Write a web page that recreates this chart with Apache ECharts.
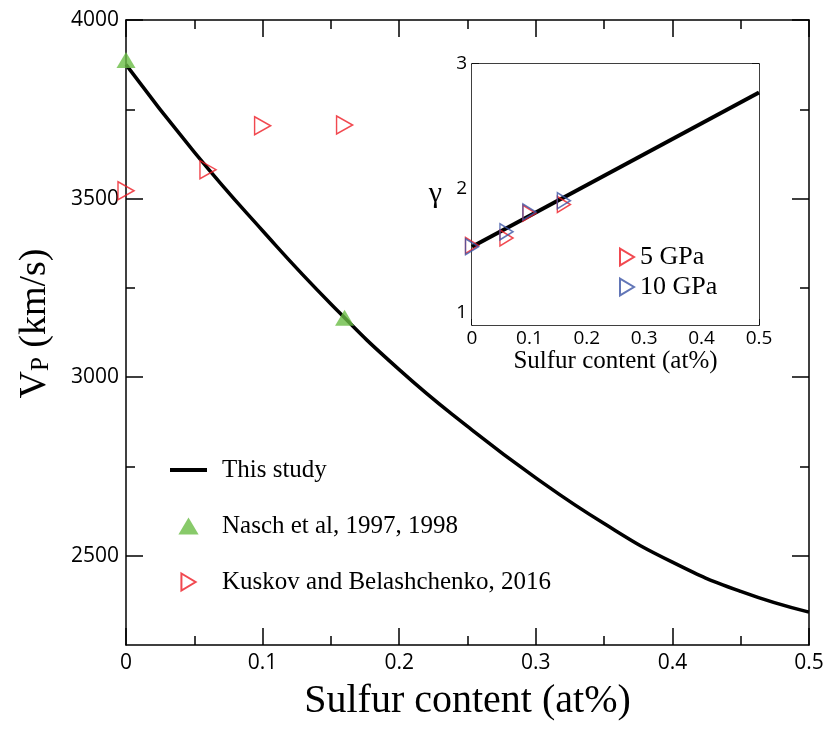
<!DOCTYPE html>
<html>
<head>
<meta charset="utf-8">
<script src="https://cdn.jsdelivr.net/npm/echarts@6/dist/echarts.min.js"></script>
<style>
  html, body { margin: 0; padding: 0; background: #fff; }
  #chart { width: 829px; height: 730px; }
</style>
</head>
<body>
<div id="chart"></div>
<script>
// main panel: P-wave velocity vs sulfur content
const sulfur = [0, 0.05, 0.1, 0.15, 0.2, 0.25, 0.3, 0.35, 0.4, 0.45, 0.5];
const vpStudy = [3875, 3630, 3410, 3205, 3021, 2862, 2718, 2590, 2482, 2400, 2342];
const naschS = [0, 0.16];
const naschVp = [3888, 3166];
const kuskovS = [0, 0.06, 0.1, 0.16];
const kuskovVp = [3522, 3581, 3704, 3706];
const vpMajorTicks = [2500, 3000, 3500, 4000];
const vpMinorTicks = [2750, 3250, 3750];

// inset: gamma vs sulfur content
const insetS = [0, 0.5];
const gammaStudy = [1.53, 2.77];
const gpaS = [0, 0.06, 0.1, 0.16];
const gamma5 = [1.54, 1.60, 1.80, 1.87];
const gamma10 = [1.53, 1.65, 1.81, 1.90];
const gammaMajorTicks = [1, 2, 3];
const gammaMinorTicks = [1.25, 1.5, 1.75, 2.25, 2.5, 2.75];

const pairs = (xs, ys) => xs.map((x, i) => [x, ys[i]]);

const RIGHT_TRI = 'path://M0,0L10,6L0,12Z';
const UP_TRI = 'path://M9.5,0L19,16L0,16Z';
const LINE_ICON = 'path://M0,0H37V4H0Z';
const SANS = 'Open Sans';
const SERIF = 'Liberation Serif';
const axisLine = { show: true, lineStyle: { color: '#000', width: 1.5 } };
const noSplit = { show: false };
const plain = v => String(v);

// helper for y axes, one axis per tick length
const yAx = (grid, pos, min, max, ticks, len, extra) => Object.assign({
  type: 'value',
  gridIndex: grid,
  position: pos,
  min: min,
  max: max,
  axisLine: axisLine,
  splitLine: noSplit,
  axisTick: { show: true, inside: true, length: len, customValues: ticks, lineStyle: { color: '#000', width: 1.5 } },
  axisLabel: { show: false }
}, extra || {});

const chart = echarts.init(document.getElementById('chart'));

const option = {
  backgroundColor: '#fff',
  animation: false,
  grid: [
    { left: 126, top: 20, right: 20, bottom: 85 },
    { left: 472, top: 64, right: 70, bottom: 405, show: true, backgroundColor: '#fff', borderWidth: 0, z: 1 }
  ],
  legend: [
    {
      data: [
        { name: 'This study', icon: LINE_ICON },
        { name: 'Nasch et al, 1997, 1998', icon: UP_TRI },
        { name: 'Kuskov and Belashchenko, 2016', icon: RIGHT_TRI }
      ],
      orient: 'vertical',
      left: 170,
      top: 457,
      padding: 0,
      itemWidth: 37,
      itemHeight: 17,
      itemGap: 30,
      z: 10,
      textStyle: { fontFamily: SERIF, fontSize: 25, lineHeight: 26, color: '#000', padding: [0, 0, 0, 10] }
    },
    {
      data: [
        { name: '5 GPa', icon: RIGHT_TRI },
        { name: '10 GPa', icon: RIGHT_TRI }
      ],
      orient: 'vertical',
      left: 619,
      top: 244,
      padding: 0,
      itemWidth: 14,
      itemHeight: 17,
      itemGap: 4,
      z: 10,
      textStyle: { fontFamily: SERIF, fontSize: 26, lineHeight: 26, color: '#000', padding: [0, 0, 0, 1] }
    }
  ],
  xAxis: [
    {
      type: 'value', gridIndex: 0, position: 'bottom', min: 0, max: 0.5, interval: 0.1,
      axisLine: axisLine, splitLine: noSplit,
      axisTick: { inside: true, length: 17, lineStyle: { color: '#000', width: 1.5 } },
      minorTick: { show: true, splitNumber: 2, length: 9, lineStyle: { color: '#000', width: 1.5 } },
      axisLabel: { fontFamily: SANS, fontSize: 21, color: '#000', margin: 8, formatter: plain },
      name: 'Sulfur content (at%)', nameLocation: 'middle', nameGap: 36,
      nameTextStyle: { fontFamily: SERIF, fontSize: 40, color: '#000' }
    },
    {
      type: 'value', gridIndex: 0, position: 'top', min: 0, max: 0.5, interval: 0.1,
      axisLine: axisLine, splitLine: noSplit,
      axisTick: { inside: true, length: 17, lineStyle: { color: '#000', width: 1.5 } },
      minorTick: { show: true, splitNumber: 2, length: 9, lineStyle: { color: '#000', width: 1.5 } },
      axisLabel: { show: false }
    },
    {
      type: 'value', gridIndex: 1, position: 'bottom', min: 0, max: 0.5, interval: 0.1,
      axisLine: axisLine, splitLine: noSplit,
      axisTick: { inside: true, length: 6, lineStyle: { color: '#000', width: 1.5 } },
      minorTick: { show: true, splitNumber: 2, length: 4, lineStyle: { color: '#000', width: 1.5 } },
      axisLabel: { fontFamily: SANS, fontSize: 19, color: '#000', margin: 4, formatter: plain },
      name: 'Sulfur content (at%)', nameLocation: 'middle', nameGap: 21,
      nameTextStyle: { fontFamily: SERIF, fontSize: 25, color: '#000' }
    },
    {
      type: 'value', gridIndex: 1, position: 'top', min: 0, max: 0.5,
      axisLine: axisLine, splitLine: noSplit,
      axisTick: { show: false }, axisLabel: { show: false }
    }
  ],
  yAxis: [
    yAx(0, 'left', 2250, 4000, vpMajorTicks, 17, {
      axisLabel: { show: true, customValues: vpMajorTicks, fontFamily: SANS, fontSize: 21, color: '#000', margin: 7, formatter: plain },
      name: '{v|V}{s|P}{v| (km/s)}', nameLocation: 'middle', nameGap: 72,
      nameTextStyle: {
        padding: [0, 0, 0, 18],
        rich: {
          v: { fontFamily: SERIF, fontSize: 38, color: '#000' },
          s: { fontFamily: SERIF, fontSize: 25, color: '#000', padding: [12, 0, 0, 0] }
        }
      }
    }),
    yAx(0, 'left', 2250, 4000, vpMinorTicks, 9, { axisLine: { show: false } }),
    yAx(0, 'right', 2250, 4000, vpMajorTicks, 17),
    yAx(0, 'right', 2250, 4000, vpMinorTicks, 9, { axisLine: { show: false } }),
    yAx(1, 'left', 0.9, 3, gammaMajorTicks, 7, {
      axisLabel: { show: true, customValues: gammaMajorTicks, fontFamily: SANS, fontSize: 19, color: '#000', margin: 5, formatter: plain },
      name: 'γ', nameLocation: 'middle', nameGap: 30, nameRotate: 0,
      nameTextStyle: { fontFamily: SERIF, fontSize: 30, color: '#000', padding: [0, 0, 12, 0] }
    }),
    yAx(1, 'left', 0.9, 3, gammaMinorTicks, 4, { axisLine: { show: false } }),
    yAx(1, 'right', 0.9, 3, gammaMajorTicks, 7),
    yAx(1, 'right', 0.9, 3, gammaMinorTicks, 4, { axisLine: { show: false } })
  ],
  series: [
    {
      name: 'This study', type: 'line', xAxisIndex: 0, yAxisIndex: 0,
      data: pairs(sulfur, vpStudy), smooth: true, symbol: 'none',
      lineStyle: { color: '#000', width: 3.5 }, itemStyle: { color: '#000' }
    },
    {
      name: 'Nasch et al, 1997, 1998', type: 'scatter', xAxisIndex: 0, yAxisIndex: 0,
      data: pairs(naschS, naschVp), symbol: 'triangle', symbolSize: [19, 16],
      itemStyle: { color: '#6abd45' }, z: 3
    },
    {
      name: 'Kuskov and Belashchenko, 2016', type: 'scatter', xAxisIndex: 0, yAxisIndex: 0,
      data: pairs(kuskovS, kuskovVp), symbol: RIGHT_TRI, symbolSize: [16, 18],
      itemStyle: { color: 'rgba(0,0,0,0)', borderColor: '#ed1c24', borderWidth: 1.5 }, z: 3
    },
    {
      name: 'inset', type: 'line', xAxisIndex: 2, yAxisIndex: 4,
      data: pairs(insetS, gammaStudy), symbol: 'none',
      lineStyle: { color: '#000', width: 4 }, z: 6
    },
    {
      name: '5 GPa', type: 'scatter', xAxisIndex: 2, yAxisIndex: 4,
      data: pairs(gpaS, gamma5), symbol: RIGHT_TRI, symbolSize: [13, 16],
      itemStyle: { color: 'rgba(0,0,0,0)', borderColor: '#ed1c24', borderWidth: 1.5 }, z: 7
    },
    {
      name: '10 GPa', type: 'scatter', xAxisIndex: 2, yAxisIndex: 4,
      data: pairs(gpaS, gamma10), symbol: RIGHT_TRI, symbolSize: [13, 16],
      itemStyle: { color: 'rgba(0,0,0,0)', borderColor: '#3b54a5', borderWidth: 1.5 }, z: 7
    }
  ]
};

chart.setOption(option);
</script>
</body>
</html>
